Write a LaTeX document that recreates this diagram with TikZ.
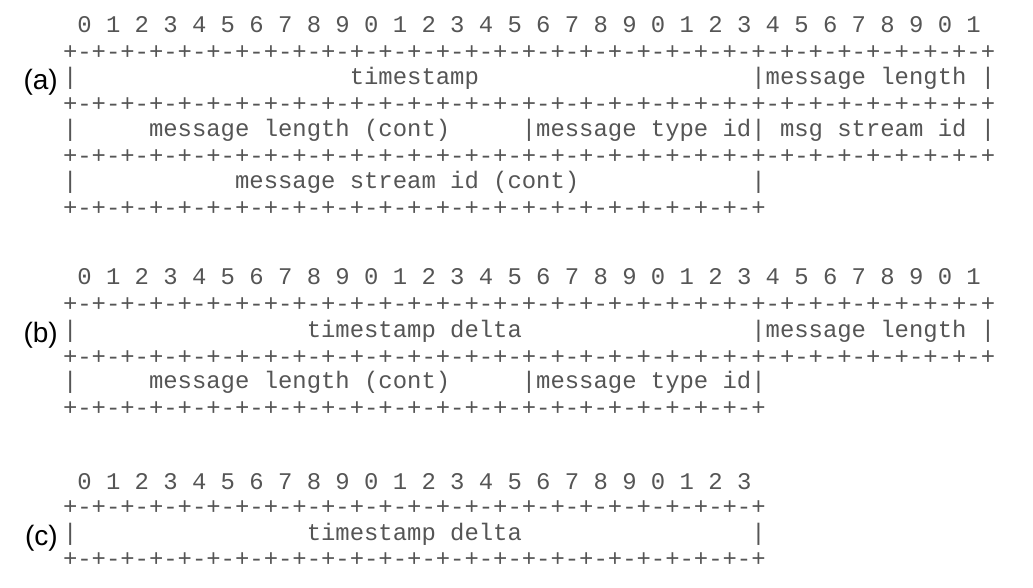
\documentclass[tikz,border=0pt]{standalone}
\usepackage{fontspec}
\setmainfont{Liberation Sans}
\newfontfamily\headerfont{Liberation Mono}
\usepackage{xcolor}
\usetikzlibrary{positioning}
\definecolor{asciigray}{HTML}{555555}

\tikzset{
  ascii/.style={font=\headerfont\fontsize{23.9}{24}\selectfont, text=asciigray, inner sep=0pt, anchor=base west},
  partlabel/.style={font=\fontsize{28}{28}\selectfont, inner sep=0pt, anchor=base east}
}
% x of the left edge of one character column
\newcommand{\cx}[1]{62.8+14.34*#1}
\newcommand{\longrule}{+-+-+-+-+-+-+-+-+-+-+-+-+-+-+-+-+-+-+-+-+-+-+-+-+-+-+-+-+-+-+-+-+}
\newcommand{\shortrule}{+-+-+-+-+-+-+-+-+-+-+-+-+-+-+-+-+-+-+-+-+-+-+-+-+}
\newcommand{\longbits}{0 1 2 3 4 5 6 7 8 9 0 1 2 3 4 5 6 7 8 9 0 1 2 3 4 5 6 7 8 9 0 1}
\newcommand{\shortbits}{0 1 2 3 4 5 6 7 8 9 0 1 2 3 4 5 6 7 8 9 0 1 2 3}

\begin{document}
\begin{tikzpicture}[x=1pt, y=-1pt]
    \useasboundingbox (0,0) rectangle (1033,587);

    % (a) chunk header type 0
    \node[ascii] (bitsA) at ({\cx{1}},32) {\longbits};
    \node[ascii] (ruleA0) at ({\cx{0}},59) {\longrule};
    \node[ascii] (barA1) at ({\cx{0}},84) {|};
    \node[ascii] (tsA) at ({\cx{20}},84) {timestamp};
    \node[ascii] (lenA) at ({\cx{48}},84) {|message length};
    \node[ascii] (endA1) at ({\cx{64}},84) {|};
    \node[ascii] (ruleA1) at ({\cx{0}},111) {\longrule};
    \node[ascii] (barA2) at ({\cx{0}},136) {|};
    \node[ascii] (lencA) at ({\cx{6}},136) {message length (cont)};
    \node[ascii] (typeA) at ({\cx{32}},136) {|message type id|};
    \node[ascii] (sidA) at ({\cx{50}},136) {msg stream id};
    \node[ascii] (endA2) at ({\cx{64}},136) {|};
    \node[ascii] (ruleA2) at ({\cx{0}},163) {\longrule};
    \node[ascii] (barA3) at ({\cx{0}},188) {|};
    \node[ascii] (sidcA) at ({\cx{12}},188) {message stream id (cont)};
    \node[ascii] (endA3) at ({\cx{48}},188) {|};
    \node[ascii] (ruleA3) at ({\cx{0}},215) {\shortrule};
    \node[partlabel] (labA) at (58,89) {(a)};

    % (b) chunk header type 1
    \node[ascii] (bitsB) at ({\cx{1}},284) {\longbits};
    \node[ascii] (ruleB0) at ({\cx{0}},311) {\longrule};
    \node[ascii] (barB1) at ({\cx{0}},337) {|};
    \node[ascii] (tsB) at ({\cx{17}},337) {timestamp delta};
    \node[ascii] (lenB) at ({\cx{48}},337) {|message length};
    \node[ascii] (endB1) at ({\cx{64}},337) {|};
    \node[ascii] (ruleB1) at ({\cx{0}},364) {\longrule};
    \node[ascii] (barB2) at ({\cx{0}},388) {|};
    \node[ascii] (lencB) at ({\cx{6}},388) {message length (cont)};
    \node[ascii] (typeB) at ({\cx{32}},388) {|message type id|};
    \node[ascii] (ruleB2) at ({\cx{0}},415) {\shortrule};
    \node[partlabel] (labB) at (58,342) {(b)};

    % (c) chunk header type 2
    \node[ascii] (bitsC) at ({\cx{1}},489) {\shortbits};
    \node[ascii] (ruleC0) at ({\cx{0}},514) {\shortrule};
    \node[ascii] (barC1) at ({\cx{0}},540) {|};
    \node[ascii] (tsC) at ({\cx{17}},540) {timestamp delta};
    \node[ascii] (endC1) at ({\cx{48}},540) {|};
    \node[ascii] (ruleC1) at ({\cx{0}},566) {\shortrule};
    \node[partlabel] (labC) at (58,545) {(c)};

\end{tikzpicture}
\end{document}
